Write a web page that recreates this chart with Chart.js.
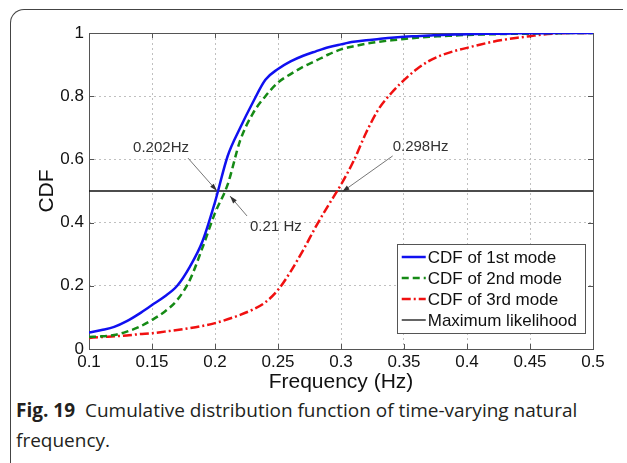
<!DOCTYPE html>
<html lang="en">
<head>
<meta charset="UTF-8">
<title>CDF of time-varying natural frequency</title>
<script src="https://cdn.jsdelivr.net/npm/chart.js"></script>
<style>
  body {
    margin: 0;
    background: #fff;
    width: 627px;
    height: 463px;
    overflow: hidden;
    position: relative;
  }
  .frame {
    position: absolute;
    left: 10px;
    top: 9px;
    width: 612px;
    height: 470px;
    border-top: 1.5px solid #444;
    border-left: 1.5px solid #444;
    border-bottom: 1.5px solid #444;
    border-radius: 14px 0 0 14px;
  }
  #chart {
    position: absolute;
    left: 0;
    top: 0;
  }
  .caption {
    position: absolute;
    left: 16px;
    top: 395px;
    width: 600px;
    font-family: "Open Sans", sans-serif;
    font-size: 19px;
    line-height: 30px;
    color: #231f20;
  }
  .caption b { font-weight: 700; }
</style>
</head>
<body>
  <div class="frame"></div>
  <canvas id="chart" width="627" height="395"></canvas>
  <div class="caption"><b>Fig. 19</b>&nbsp; Cumulative distribution function of time-varying natural frequency.</div>

<script>
  // frequency grid (Hz) shared by the three CDF curves
  const freq = [0.10, 0.11, 0.12, 0.13, 0.14, 0.15, 0.16, 0.17, 0.18, 0.19,
                0.20, 0.21, 0.22, 0.23, 0.24, 0.25, 0.26, 0.27, 0.28, 0.29,
                0.30, 0.31, 0.32, 0.33, 0.34, 0.35, 0.36, 0.37, 0.38, 0.39,
                0.40, 0.41, 0.42, 0.43, 0.44, 0.45, 0.46, 0.47, 0.48, 0.49, 0.50];

  const cdfMode1 = [0.052, 0.060, 0.070, 0.088, 0.112, 0.139, 0.166, 0.200, 0.260, 0.340,
                    0.465, 0.610, 0.700, 0.780, 0.852, 0.886, 0.910, 0.928, 0.942, 0.955,
                    0.964, 0.972, 0.977, 0.981, 0.985, 0.988, 0.990, 0.992, 0.994, 0.995,
                    0.996, 0.997, 0.998, 0.998, 0.999, 0.999, 0.999, 1.000, 1.000, 1.000, 1.000];

  const cdfMode2 = [0.038, 0.040, 0.044, 0.055, 0.070, 0.092, 0.118, 0.155, 0.218, 0.320,
                    0.430, 0.520, 0.660, 0.745, 0.800, 0.843, 0.870, 0.893, 0.912, 0.932,
                    0.948, 0.958, 0.966, 0.972, 0.977, 0.981, 0.985, 0.988, 0.990, 0.992,
                    0.994, 0.995, 0.996, 0.997, 0.998, 0.998, 0.999, 0.999, 1.000, 1.000, 1.000];

  const cdfMode3 = [0.035, 0.038, 0.040, 0.043, 0.047, 0.050, 0.055, 0.060, 0.066, 0.073,
                    0.082, 0.094, 0.108, 0.125, 0.148, 0.187, 0.245, 0.313, 0.387, 0.455,
                    0.520, 0.595, 0.685, 0.760, 0.810, 0.851, 0.885, 0.912, 0.930, 0.943,
                    0.953, 0.963, 0.972, 0.979, 0.985, 0.990, 0.995, 0.998, 1.000, 1.000, 1.000];

  // maximum likelihood level
  const mlFreq = [0.1, 0.5];
  const mlLevel = [0.5, 0.5];

  const seriesLabels = ["CDF of 1st mode", "CDF of 2nd mode", "CDF of 3rd mode", "Maximum likelihood"];

  const xTicks = [0.1, 0.15, 0.2, 0.25, 0.3, 0.35, 0.4, 0.45, 0.5];
  const yTicks = [0, 0.2, 0.4, 0.6, 0.8, 1];

  // annotations, in data units: point of the arrow, tail of the arrow, left edge of text
  const notes = [
    { text: "0.202Hz", at: [0.2016, 0.5], from: [0.1786, 0.604], label: [0.135, 0.636] },
    { text: "0.21 Hz", at: [0.2119, 0.484], from: [0.2254, 0.421], label: [0.2278, 0.386] },
    { text: "0.298Hz", at: [0.3008, 0.497], from: [0.341, 0.611], label: [0.341, 0.639] }
  ];

  const pts = (xs, ys) => xs.map((x, i) => ({ x: x, y: ys[i] }));

  const FONT = '"Liberation Sans", Arial, sans-serif';
  Chart.defaults.font.family = FONT;
  Chart.defaults.color = "#111";

  const framePlugin = {
    id: "frame",
    beforeDatasetsDraw(chart) {
      const { ctx, chartArea: a, scales } = chart;
      ctx.save();
      ctx.strokeStyle = "#555";
      ctx.lineWidth = 1;
      ctx.strokeRect(a.left + 0.5, a.top + 0.5, a.right - a.left, a.bottom - a.top);
      // inward tick marks, as in matlab
      ctx.beginPath();
      xTicks.forEach(v => {
        const px = Math.round(scales.x.getPixelForValue(v)) + 0.5;
        ctx.moveTo(px, a.bottom); ctx.lineTo(px, a.bottom - 5);
        ctx.moveTo(px, a.top); ctx.lineTo(px, a.top + 5);
      });
      yTicks.forEach(v => {
        const py = Math.round(scales.y.getPixelForValue(v)) + 0.5;
        ctx.moveTo(a.left, py); ctx.lineTo(a.left + 5, py);
        ctx.moveTo(a.right, py); ctx.lineTo(a.right - 5, py);
      });
      ctx.stroke();
      ctx.restore();
    },
    afterDatasetsDraw(chart) {
      const { ctx, chartArea: a, scales } = chart;
      const X = v => scales.x.getPixelForValue(v);
      const Y = v => scales.y.getPixelForValue(v);

      // annotations with arrows
      ctx.save();
      ctx.font = "15px " + FONT;
      ctx.fillStyle = "#333";
      ctx.textBaseline = "middle";
      notes.forEach(n => {
        ctx.fillText(n.text, X(n.label[0]), Y(n.label[1]));
        const x1 = X(n.from[0]), y1 = Y(n.from[1]);
        const x2 = X(n.at[0]), y2 = Y(n.at[1]);
        ctx.strokeStyle = "#666";
        ctx.lineWidth = 0.9;
        ctx.beginPath(); ctx.moveTo(x1, y1); ctx.lineTo(x2, y2); ctx.stroke();
        const ang = Math.atan2(y2 - y1, x2 - x1);
        ctx.fillStyle = "#333";
        ctx.beginPath();
        ctx.moveTo(x2, y2);
        ctx.lineTo(x2 - 8 * Math.cos(ang - 0.3), y2 - 8 * Math.sin(ang - 0.3));
        ctx.lineTo(x2 - 8 * Math.cos(ang + 0.3), y2 - 8 * Math.sin(ang + 0.3));
        ctx.closePath(); ctx.fill();
      });
      ctx.restore();

      // legend box, lower right inside the axes
      ctx.save();
      ctx.font = "17px " + FONT;
      const tw = Math.max(...seriesLabels.map(s => ctx.measureText(s).width));
      const rowH = 21;
      const w = 5 + 24 + 2 + tw + 8;
      const h = rowH * seriesLabels.length + 5;
      const right = a.right - 8, bottom = a.bottom - 16;
      const left = right - w, top = bottom - h;
      ctx.fillStyle = "#fff";
      ctx.fillRect(left, top, w, h);
      ctx.strokeStyle = "#555";
      ctx.lineWidth = 1;
      ctx.strokeRect(Math.round(left) + 0.5, Math.round(top) + 0.5, Math.round(w), Math.round(h));
      chart.data.datasets.forEach((ds, i) => {
        const cy = top + 13 + i * rowH;
        ctx.strokeStyle = ds.borderColor;
        ctx.lineWidth = ds.borderWidth;
        ctx.setLineDash(ds.borderDash || []);
        ctx.beginPath(); ctx.moveTo(left + 5, cy); ctx.lineTo(left + 29, cy); ctx.stroke();
        ctx.setLineDash([]);
        ctx.fillStyle = "#111";
        ctx.textBaseline = "middle";
        ctx.fillText(ds.label, left + 31, cy + 1);
      });
      ctx.restore();
    }
  };

  new Chart(document.getElementById("chart"), {
    type: "line",
    data: {
      datasets: [
        { label: seriesLabels[0], data: pts(freq, cdfMode1), borderColor: "#1010f0", borderWidth: 2.5 },
        { label: seriesLabels[1], data: pts(freq, cdfMode2), borderColor: "#158a15", borderWidth: 2.5, borderDash: [7, 4] },
        { label: seriesLabels[2], data: pts(freq, cdfMode3), borderColor: "#f01010", borderWidth: 2.5, borderDash: [9, 3, 2, 3] },
        { label: seriesLabels[3], data: pts(mlFreq, mlLevel), borderColor: "#111", borderWidth: 1.3, cubicInterpolationMode: "default", tension: 0 }
      ]
    },
    options: {
      responsive: false,
      animation: false,
      layout: { padding: { top: 33, right: 34, left: 0, bottom: 0 } },
      elements: { point: { radius: 0 }, line: { cubicInterpolationMode: "monotone", fill: false } },
      plugins: { legend: { display: false }, tooltip: { enabled: false } },
      scales: {
        x: {
          type: "linear", min: 0.1, max: 0.5,
          afterBuildTicks: s => { s.ticks = xTicks.map(v => ({ value: v })); },
          afterFit: s => { s.height = 46; },
          ticks: { callback: v => String(v), font: { size: 17 }, padding: 3, maxRotation: 0, autoSkip: false },
          grid: { color: "#c0c0c0", drawTicks: false },
          border: { display: false, dash: [2, 3] },
          title: { display: true, text: "Frequency (Hz)", font: { size: 21 }, padding: 0 }
        },
        y: {
          min: 0, max: 1,
          afterBuildTicks: s => { s.ticks = yTicks.map(v => ({ value: v })); },
          afterFit: s => { s.width = 89; },
          ticks: { callback: v => String(v), font: { size: 17 }, padding: 5 },
          grid: { color: "#c0c0c0", drawTicks: false },
          border: { display: false, dash: [2, 3] },
          title: { display: true, text: "CDF", font: { size: 21 }, padding: { top: 35 } }
        }
      }
    },
    plugins: [framePlugin]
  });
</script>
</body>
</html>
